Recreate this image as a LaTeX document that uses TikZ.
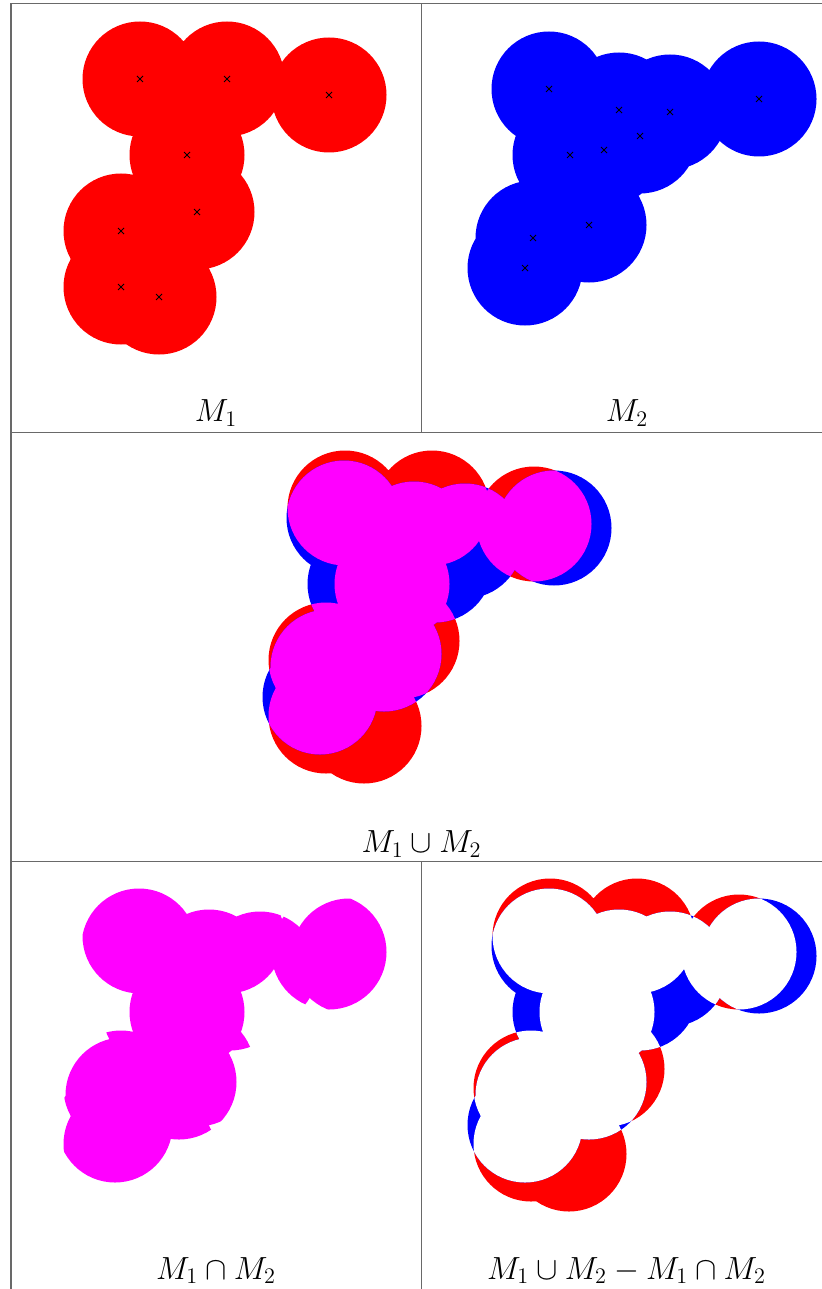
\documentclass[tikz,border=0pt]{standalone}
\definecolor{gridgray}{RGB}{105,105,105}
\definecolor{mred}{RGB}{255,0,0}
\definecolor{mblue}{RGB}{0,0,255}
\definecolor{mmag}{RGB}{255,0,255}
\newcommand\MonePts{140/79,227/79,329/95,187/155,197/212,121/231,121/287,159/297}
\newcommand\MtwoPts{549/89,619/110,670/112,759/99,640/136,604/150,570/155,589/225,533/238,525/268}
\newcommand\Rad{28.75pt}
\newcommand\lbltext[1]{\scalebox{0.926}{\LARGE$#1$}}
\tikzset{
  gridline/.style={draw=gridgray, line width=0.7pt},
  crossmark/.style={draw=black, line width=0.5pt},
  lbl/.style={anchor=base, inner sep=0pt},
}
\begin{document}
\begin{tikzpicture}[x=0.5pt,y=-0.5pt]
\useasboundingbox (0,0) rectangle (822,1289);
% ---------- M1 ----------
\fill[mred] \foreach \a/\b in \MonePts {(\a,\b) circle[radius=\Rad]};
\foreach \a/\b in \MonePts {\draw[crossmark] (\a,\b) +(-3,-3) -- +(3,3) +(-3,3) -- +(3,-3);}
% ---------- M2 ----------
\fill[mblue] \foreach \a/\b in \MtwoPts {(\a,\b) circle[radius=\Rad]};
\foreach \a/\b in \MtwoPts {\draw[crossmark] (\a,\b) +(-3,-3) -- +(3,3) +(-3,3) -- +(3,-3);}
% ---------- M1 u M2 ----------
\fill[mred, shift={(205,429)}] \foreach \a/\b in \MonePts {(\a,\b) circle[radius=\Rad]};
\fill[mblue, shift={(-205,429)}] \foreach \a/\b in \MtwoPts {(\a,\b) circle[radius=\Rad]};
\begin{scope}
  \clip[shift={(205,429)}] \foreach \a/\b in \MonePts {(\a,\b) circle[radius=\Rad]};
  \fill[mmag, shift={(-205,429)}] \foreach \a/\b in \MtwoPts {(\a,\b) circle[radius=\Rad]};
\end{scope}
% ---------- M1 n M2 ----------
\begin{scope}
  \clip[shift={(0,857)}] \foreach \a/\b in \MonePts {(\a,\b) circle[radius=\Rad]};
  \fill[mmag, shift={(-410,857)}] \foreach \a/\b in \MtwoPts {(\a,\b) circle[radius=\Rad]};
\end{scope}
% ---------- symmetric difference ----------
\fill[mred, shift={(410,857)}] \foreach \a/\b in \MonePts {(\a,\b) circle[radius=\Rad]};
\fill[mblue, shift={(0,857)}] \foreach \a/\b in \MtwoPts {(\a,\b) circle[radius=\Rad]};
\begin{scope}
  \clip[shift={(410,857)}] \foreach \a/\b in \MonePts {(\a,\b) circle[radius=\Rad]};
  \fill[white, shift={(0,857)}] \foreach \a/\b in \MtwoPts {(\a,\b) circle[radius=\Rad]};
\end{scope}
% ---------- table lines ----------
\draw[gridline] (11,1289) -- (11,3.5) -- (822,3.5);
\draw[gridline] (11,432.5) -- (822,432.5);
\draw[gridline] (11,861.5) -- (822,861.5);
\draw[gridline] (421.5,3.5) -- (421.5,432.5);
\draw[gridline] (421.5,861.5) -- (421.5,1289);
% ---------- labels ----------
\node[lbl] (l1) at (216,421.5) {\lbltext{M_1}};
\node[lbl] (l2) at (627,421.5) {\lbltext{M_2}};
\node[lbl] (l3) at (421.5,852.5) {\lbltext{M_1\cup M_2}};
\node[lbl] (l4) at (216,1279) {\lbltext{M_1\cap M_2}};
\node[lbl] (l5) at (626.5,1279) {\lbltext{M_1\cup M_2-M_1\cap M_2}};
\end{tikzpicture}
\end{document}
